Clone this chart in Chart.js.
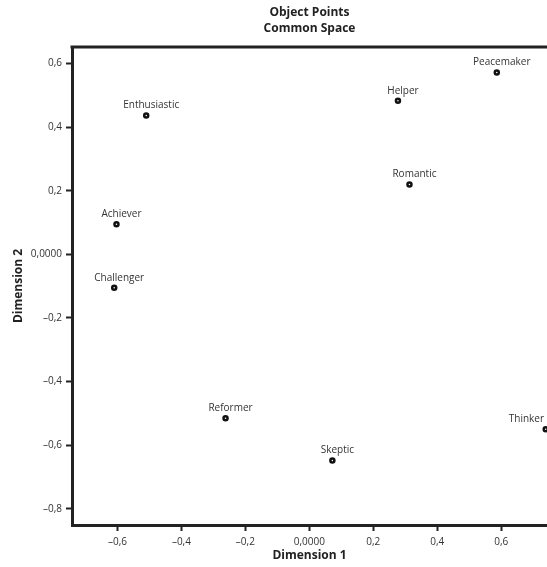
<!DOCTYPE html>
<html>
<head>
<meta charset="utf-8">
<script src="https://cdn.jsdelivr.net/npm/chart.js@4.4.1/dist/chart.umd.min.js"></script>
<style>
  body { margin: 0; background: #fff; }
  canvas { display: block; }
</style>
</head>
<body>
<canvas id="object_points" width="547" height="567"></canvas>
<script>
const names = ['Peacemaker', 'Helper', 'Romantic', 'Enthusiastic', 'Achiever', 'Challenger', 'Reformer', 'Skeptic', 'Thinker']
const dim1 = [0.586, 0.277, 0.313, -0.510, -0.603, -0.610, -0.262, 0.072, 0.739]
const dim2 = [0.572, 0.483, 0.220, 0.437, 0.095, -0.105, -0.515, -0.648, -0.550]
const x_ticks = [-0.6, -0.4, -0.2, 0, 0.2, 0.4, 0.6]
const y_ticks = [-0.8, -0.6, -0.4, -0.2, 0, 0.2, 0.4, 0.6]

const ink = '#222'
const font_family = '"Open Sans", "DejaVu Sans", sans-serif'

// SPSS style numbers: comma decimals, en dash minus, zero with 4 decimals
const fmt = v => {
    if (Math.abs(v) < 1e-9) return '0,0000'
    return (v < 0 ? '\u2013' : '') + Math.abs(v).toFixed(1).replace('.', ',')
}

const points = names.map((n, i) => ({ x: dim1[i], y: dim2[i], name: n }))

// point names above markers
const point_labels = {
    id: 'point_labels',
    afterDatasetsDraw(chart) {
        const ctx = chart.ctx
        const meta = chart.getDatasetMeta(0)
        ctx.save()
        ctx.font = '10px ' + font_family
        ctx.fillStyle = '#333'
        ctx.textAlign = 'center'
        ctx.textBaseline = 'middle'
        meta.data.forEach((el, i) => {
            const text = names[i]
            const w = ctx.measureText(text).width
            let x = el.x + 5
            if (x + w / 2 > chart.width - 3) x = chart.width - 3 - w / 2
            ctx.fillText(text, x, el.y - 10)
        })
        ctx.restore()
    }
}

// top edge of the frame
const frame_top = {
    id: 'frame_top',
    afterDraw(chart) {
        const { ctx, chartArea } = chart
        ctx.save()
        ctx.strokeStyle = ink
        ctx.lineWidth = 3
        ctx.beginPath()
        ctx.moveTo(chartArea.left - 1.5, chartArea.top)
        ctx.lineTo(chart.width, chartArea.top)
        ctx.stroke()
        ctx.restore()
    }
}

new Chart(document.querySelector('#object_points'), {
    type: 'scatter',
    data: {
        datasets: [{
            data: points,
            pointRadius: 2,
            pointHoverRadius: 2,
            pointBorderWidth: 2.5,
            pointBackgroundColor: '#fff',
            pointBorderColor: '#111',
            clip: 6
        }]
    },
    options: {
        responsive: false,
        animation: false,
        layout: { padding: 0, autoPadding: false },
        plugins: {
            legend: { display: false },
            tooltip: { enabled: false },
            title: {
                display: true,
                text: ['Object Points', 'Common Space'],
                fullSize: false,
                color: ink,
                font: { family: font_family, size: 12, weight: 'bold', lineHeight: 16 / 12 },
                padding: { top: 5, bottom: 10 }
            }
        },
        scales: {
            x: {
                min: -0.742,
                max: 0.743,
                afterBuildTicks: s => { s.ticks = x_ticks.map(v => ({ value: v })) },
                afterFit: s => {
                    s.height = 42
                    s.paddingLeft = 0
                    s.paddingRight = 0
                },
                ticks: {
                    callback: v => fmt(v),
                    color: '#333',
                    padding: 5,
                    maxRotation: 0,
                    font: { family: font_family, size: 10 }
                },
                grid: { drawOnChartArea: false, tickLength: 6, tickWidth: 2, tickColor: ink },
                border: { width: 3, color: ink },
                title: {
                    display: true,
                    text: 'Dimension 1',
                    color: ink,
                    font: { family: font_family, size: 12, weight: 'bold' },
                    padding: { top: 0, bottom: 4 }
                }
            },
            y: {
                min: -0.851,
                max: 0.652,
                afterBuildTicks: s => { s.ticks = y_ticks.map(v => ({ value: v })) },
                afterFit: s => {
                    s.width = 72
                    s.paddingTop = 0
                    s.paddingBottom = 0
                },
                ticks: {
                    callback: v => fmt(v),
                    color: '#333',
                    padding: 4,
                    font: { family: font_family, size: 10 }
                },
                grid: { drawOnChartArea: false, tickLength: 6, tickWidth: 2, tickColor: ink },
                border: { width: 3, color: ink },
                title: {
                    display: true,
                    text: 'Dimension 2',
                    color: ink,
                    font: { family: font_family, size: 12, weight: 'bold' },
                    padding: { top: 11, bottom: 0 }
                }
            }
        }
    },
    plugins: [point_labels, frame_top]
})
</script>
</body>
</html>
